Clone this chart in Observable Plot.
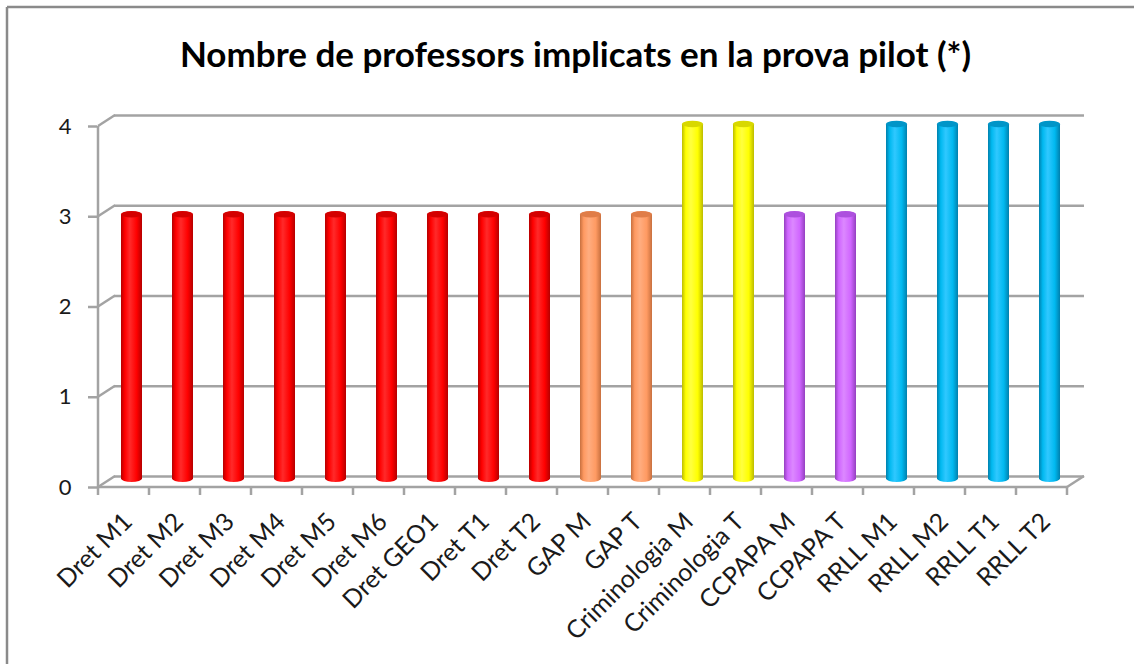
<!DOCTYPE html>
<html>
<head>
<meta charset="utf-8">
<script src="https://cdn.jsdelivr.net/npm/d3@7"></script>
<script src="https://cdn.jsdelivr.net/npm/@observablehq/plot@0.6"></script>
<style>
  html, body { margin: 0; padding: 0; background: #fff; }
  #chart { width: 1134px; height: 664px; overflow: hidden; }
</style>
</head>
<body>
<div id="chart"></div>
<script>
const title = "Nombre de professors implicats en la prova pilot (*)";
const categories = ["Dret M1","Dret M2","Dret M3","Dret M4","Dret M5","Dret M6","Dret GEO1","Dret T1","Dret T2","GAP M","GAP T","Criminologia M","Criminologia T","CCPAPA M","CCPAPA T","RRLL M1","RRLL M2","RRLL T1","RRLL T2"];
const values = [3,3,3,3,3,3,3,3,3,3,3,4,4,3,3,4,4,4,4];
const groups = ["Dret","Dret","Dret","Dret","Dret","Dret","Dret","Dret","Dret","GAP","GAP","Crim","Crim","CCPAPA","CCPAPA","RRLL","RRLL","RRLL","RRLL"];
const yTicks = [0,1,2,3,4];
const groupColors = {
  Dret:   {dark: "#b50000", main: "#ff0000", light: "#ff2a2a", cap: "#d40000"},
  GAP:    {dark: "#c8703f", main: "#ff9a62", light: "#ffad80", cap: "#e07d48"},
  Crim:   {dark: "#bcbc00", main: "#ffff00", light: "#ffff40", cap: "#d8d800"},
  CCPAPA: {dark: "#9440c0", main: "#d066ff", light: "#dc88ff", cap: "#ad50de"},
  RRLL:   {dark: "#0080ad", main: "#00b9f0", light: "#30c8ff", cap: "#0095c8"}
};

const data = categories.map((c, i) => ({cat: c, v: values[i], g: groups[i]}));
const DX = 17, DY = -11;

const chart = Plot.plot({
  width: 1134,
  height: 664,
  marginLeft: 97,
  marginRight: 67,
  marginTop: 126,
  marginBottom: 177,
  style: {fontFamily: "Lato, 'Open Sans', sans-serif", background: "#fff", color: "#1a1a1a"},
  x: {domain: categories, padding: 0, label: null},
  y: {domain: [0, 4], label: null},
  color: {type: "identity"},
  marks: [
    Plot.ruleY(yTicks, {dx: DX, dy: DY, stroke: "#a3a3a3", strokeWidth: 2.5}),
    Plot.barY(data, {
      x: "cat", y: "v",
      fill: d => `url(#cyl-${d.g})`,
      insetLeft: 15, insetRight: 15,
      dx: 8, dy: -5, rx: 10.5, ry: 3.5
    }),
    Plot.axisY({ticks: yTicks, tickSize: 9, tickPadding: 17, fontSize: 22, stroke: "#a3a3a3", strokeWidth: 2.5, fill: "#1a1a1a", tickFormat: d => d}),
    Plot.axisX({tickSize: 0, tickRotate: -45, tickPadding: 30, fontSize: 25, dx: 4, fill: "#1a1a1a"}),
    Plot.text([title], {text: d => d, frameAnchor: "top", lineAnchor: "bottom", dy: -60, dx: -7, fontSize: 35, fontWeight: "bold", fill: "#000"})
  ]
});

document.getElementById("chart").appendChild(chart);

const svg = d3.select(chart);
const sx = chart.scale("x");
const sy = chart.scale("y");
const bw = sx.bandwidth;
const x0 = sx.apply(categories[0]);
const x1 = sx.apply(categories[categories.length - 1]) + bw;
const y0 = sy.apply(0);
const yTop = sy.apply(yTicks[yTicks.length - 1]);

// gradients for cylinders
const defs = svg.insert("defs", ":first-child");
Object.entries(groupColors).forEach(([g, c]) => {
  const lg = defs.append("linearGradient").attr("id", `cyl-${g}`).attr("x1", 0).attr("x2", 1).attr("y1", 0).attr("y2", 0);
  lg.append("stop").attr("offset", "0%").attr("stop-color", c.dark);
  lg.append("stop").attr("offset", "18%").attr("stop-color", c.main);
  lg.append("stop").attr("offset", "42%").attr("stop-color", c.light);
  lg.append("stop").attr("offset", "75%").attr("stop-color", c.main);
  lg.append("stop").attr("offset", "100%").attr("stop-color", c.dark);
});

const frame = svg.append("g").attr("stroke", "#a3a3a3").attr("stroke-width", 2.5).attr("fill", "none");
// front y axis line
frame.append("line").attr("x1", x0).attr("x2", x0).attr("y1", yTop).attr("y2", y0 + 1);
// depth connectors
yTicks.forEach(t => {
  const yy = sy.apply(t);
  frame.append("line").attr("x1", x0).attr("y1", yy).attr("x2", x0 + DX).attr("y2", yy + DY);
});
// front x axis line
frame.append("line").attr("x1", x0).attr("x2", x1).attr("y1", y0).attr("y2", y0);
// floor right edge
frame.append("line").attr("x1", x1).attr("y1", y0).attr("x2", x1 + DX).attr("y2", y0 + DY);
// x tick marks at band boundaries
categories.concat([null]).forEach((c, i) => {
  const xx = c === null ? x1 : sx.apply(c);
  frame.append("line").attr("x1", xx).attr("x2", xx).attr("y1", y0).attr("y2", y0 + 8);
});

// cylinder top caps
const caps = svg.append("g");
data.forEach(d => {
  const c = groupColors[d.g];
  caps.append("ellipse")
    .attr("cx", sx.apply(d.cat) + bw / 2 + 8)
    .attr("cy", sy.apply(d.v) - 5 + 3)
    .attr("rx", 10.5).attr("ry", 3.2)
    .attr("fill", c.cap);
});

// outer chart border (top and left visible)
const border = svg.append("g").attr("stroke", "#8a8a8a").attr("stroke-width", 2.5).attr("fill", "none");
border.append("line").attr("x1", 7).attr("x2", 1134).attr("y1", 7).attr("y2", 7);
border.append("line").attr("x1", 7).attr("x2", 7).attr("y1", 7).attr("y2", 664);
</script>
</body>
</html>
